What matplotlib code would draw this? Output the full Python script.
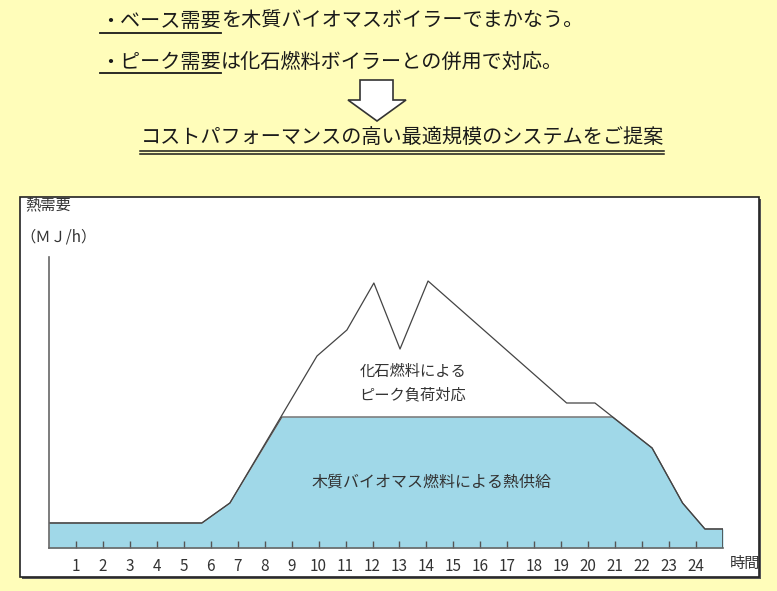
"""熱需要の日変化：木質バイオマス（ベース）＋化石燃料（ピーク）の概念図。"""

import matplotlib

matplotlib.use("Agg")
import matplotlib.pyplot as plt
from matplotlib.lines import Line2D
from matplotlib.patches import Polygon, Rectangle

plt.rcParams["font.family"] = ["Noto Sans CJK JP", "DejaVu Sans"]

W, H = 777, 591

# 熱需要（総需要）の折れ線：時刻 [h] と需要 [任意単位]
demand_hours = [0, 5.67, 6.71, 9.94, 11.05, 12.05, 13.02, 14.06, 19.2, 20.25, 22.37, 23.5, 24.33, 25.0, 25.0]
demand_mj = [25, 25, 45, 192, 218, 265, 199, 267, 145, 145, 100, 45, 19, 19, 0]

# 木質バイオマスボイラーが受け持つベース負荷
base_hours = [0, 5.67, 6.71, 8.64, 20.9, 22.37, 23.5, 24.33, 25.0, 25.0]
base_mj = [25, 25, 45, 131, 131, 100, 45, 19, 19, 0]

tick_hours = list(range(1, 25))

BG = "#FFFDBA"
BLUE = "#A0D8E8"
TXT = "#333333"
HEAD = "#1a1a1a"


def px(x, y):
    """画像ピクセル座標（左上原点）→ figure 座標。"""
    return x / W, 1 - y / H


fig = plt.figure(figsize=(W / 100, H / 100), dpi=100)
fig.patch.set_facecolor(BG)

# グラフ枠（白地・影付き）
x0, y0 = px(20, 577)
fig.add_artist(Rectangle((x0 + 2 / W, y0 - 2 / H), 739 / W, 380 / H, transform=fig.transFigure,
                         facecolor="#555555", edgecolor="none", zorder=0.5))
fig.add_artist(Rectangle((x0, y0), 739 / W, 380 / H, transform=fig.transFigure,
                         facecolor="white", edgecolor="#222222", lw=1.2, zorder=0.6))

# 本体
left, bottom = px(49, 548)
right, top = px(723, 257)
ax = fig.add_axes([left, bottom, right - left, top - bottom])
ax.set_zorder(2)
ax.patch.set_alpha(0)
ax.fill_between(base_hours, base_mj, 0, color=BLUE, lw=0)
ax.plot(base_hours, base_mj, color="#555555", lw=0.9)
ax.plot(demand_hours, demand_mj, color="#444444", lw=0.9)
ax.set_xlim(0, 25)
ax.set_ylim(0, 291)
ax.set_xticks(tick_hours)
ax.set_xticklabels([str(h) for h in tick_hours])
ax.set_yticks([])
ax.tick_params(axis="x", direction="in", length=5, width=1, color="#555555",
               pad=7, labelsize=11, labelcolor=TXT)
for side in ("top", "right"):
    ax.spines[side].set_visible(False)
for side in ("left", "bottom"):
    ax.spines[side].set_color("#666666")
    ax.spines[side].set_linewidth(1.2)

ax.text(13.5, 165, "化石燃料による\nピーク負荷対応", ha="center", va="center",
        fontsize=11, color=TXT, linespacing=1.5)
ax.text(14.2, 66, "木質バイオマス燃料による熱供給", ha="center", va="center",
        fontsize=11.5, color=TXT)

# 軸ラベル
fig.text(*px(25, 205), "熱需要", ha="left", va="center", fontsize=11, color=TXT, zorder=3)
fig.text(*px(20, 237), "（ＭＪ/h）", ha="left", va="center", fontsize=11, color=TXT, zorder=3)
fig.text(*px(745, 563), "時間", ha="center", va="center", fontsize=11, color=TXT, zorder=3)

# 上部の説明文（下線部分は別テキストにして幅を測る）
fig.canvas.draw()
renderer = fig.canvas.get_renderer()
inv = fig.transFigure.inverted()
FS = 14.5


def underlined(x, y, head, tail, uy):
    t = fig.text(*px(x, y), head, ha="left", va="center", fontsize=FS, color=HEAD)
    bb = t.get_window_extent(renderer)
    xa = inv.transform((bb.x0, 0))[0]
    xb = inv.transform((bb.x1, 0))[0]
    fig.text(xb, px(0, y)[1], tail, ha="left", va="center", fontsize=FS, color=HEAD)
    fig.add_artist(Line2D([xa, xb], [px(0, uy)[1]] * 2, color=HEAD, lw=1.3))


underlined(100, 21, "・ベース需要", "を木質バイオマスボイラーでまかなう。", 33)
underlined(100, 62, "・ピーク需要", "は化石燃料ボイラーとの併用で対応。", 73)

# 下向き矢印
arrow = [(360, 80), (393, 80), (393, 100), (406, 100), (377, 121), (348, 100), (360, 100)]
fig.add_artist(Polygon([px(*p) for p in arrow], closed=True, transform=fig.transFigure,
                       facecolor="white", edgecolor="#333333", lw=1.2))

t = fig.text(*px(402, 137), "コストパフォーマンスの高い最適規模のシステムをご提案",
             ha="center", va="center", fontsize=FS, color=HEAD)
bb = t.get_window_extent(renderer)
xa, xb = inv.transform((bb.x0, 0))[0], inv.transform((bb.x1, 0))[0]
for uy in (151, 154):
    fig.add_artist(Line2D([xa, xb], [px(0, uy)[1]] * 2, color=HEAD, lw=1.1))

fig.savefig("out.png", dpi=100, facecolor=BG)
